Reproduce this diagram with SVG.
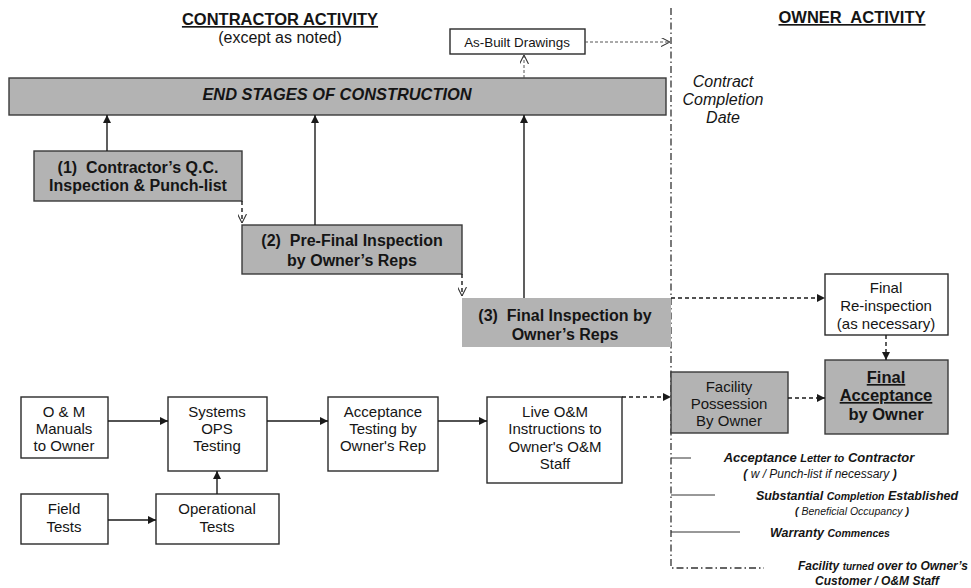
<svg xmlns="http://www.w3.org/2000/svg" width="971" height="588" viewBox="0 0 971 588">
  <style>
    text { font-family: "Liberation Sans", Arial, sans-serif; fill: #151515; }
    .title { font-size: 16.5px; font-weight: bold; text-decoration: underline; }
    .sub { font-size: 16px; }
    .box { fill: #ffffff; stroke: #2a2a2a; stroke-width: 1.4; }
    .gbox { fill: #b3b3b3; stroke: #3a3a3a; stroke-width: 1.4; }
    .gflat { fill: #b3b3b3; stroke: none; }
    .lbl { font-size: 15px; text-anchor: middle; }
    .blbl { font-size: 16px; font-weight: bold; text-anchor: middle; }
    .solid { stroke: #1a1a1a; stroke-width: 1.4; fill: none; }
    .dash { stroke: #1a1a1a; stroke-width: 1.4; fill: none; stroke-dasharray: 4 3; }
    .dashlight { stroke: #555; stroke-width: 1; fill: none; stroke-dasharray: 3 2; }
    .tick { stroke: #333; stroke-width: 1; fill: none; }
    .divider { stroke: #333; stroke-width: 1.3; fill: none; stroke-dasharray: 7 3 1.5 3; }
    .note { font-size: 12.5px; font-weight: bold; font-style: italic; text-anchor: middle; }
    .small { font-size: 10.5px; }
    .noteit { font-size: 12px; font-style: italic; text-anchor: middle; }
  </style>
  <defs>
    <marker id="arrow" viewBox="0 0 10 10" refX="10" refY="5" markerWidth="8" markerHeight="8" markerUnits="userSpaceOnUse" orient="auto">
      <path d="M0,0 L10,5 L0,10 Z" fill="#1a1a1a"/>
    </marker>
    <marker id="open" viewBox="0 0 10 10" refX="10" refY="5" markerWidth="9" markerHeight="9" markerUnits="userSpaceOnUse" orient="auto">
      <path d="M0,0 L10,5 L0,10" fill="none" stroke="#333" stroke-width="1.2"/>
    </marker>
  </defs>

  <!-- headings -->
  <text class="title" x="280" y="25" text-anchor="middle">CONTRACTOR ACTIVITY</text>
  <text class="sub" x="280" y="43" text-anchor="middle">(except as noted)</text>
  <text class="title" x="852" y="23" text-anchor="middle" xml:space="preserve">OWNER  ACTIVITY</text>

  <!-- contract completion divider -->
  <path class="divider" d="M671,8 V568 H764"/>
  <g font-style="italic" font-size="16" text-anchor="middle">
    <text x="723" y="87">Contract</text>
    <text x="723" y="105">Completion</text>
    <text x="723" y="123">Date</text>
  </g>

  <g id="end-stages">
    <rect class="gbox" x="9" y="78" width="657" height="37"/>
    <text x="337" y="100" font-size="16.4" font-weight="bold" font-style="italic" text-anchor="middle">END STAGES OF CONSTRUCTION</text>
  </g>

  <g id="as-built">
    <rect class="box" x="450" y="29" width="135" height="25" stroke-width="1.1"/>
    <text x="517" y="47" font-size="13.4" text-anchor="middle">As-Built Drawings</text>
  </g>

  <g id="qc-inspection">
    <rect class="gbox" x="34" y="151" width="208" height="50"/>
    <text class="blbl" x="138" y="173" xml:space="preserve">(1)  Contractor’s Q.C.</text>
    <text class="blbl" x="138" y="191">Inspection &amp; Punch-list</text>
  </g>

  <g id="pre-final">
    <rect class="gbox" x="242" y="225" width="220" height="49"/>
    <text class="blbl" x="352" y="246" xml:space="preserve">(2)  Pre-Final Inspection</text>
    <text class="blbl" x="352" y="266">by Owner’s Reps</text>
  </g>

  <g id="final-inspection">
    <rect class="gflat" x="462" y="298" width="209" height="49"/>
    <text class="blbl" x="565" y="321" xml:space="preserve">(3)  Final Inspection by</text>
    <text class="blbl" x="565" y="340">Owner’s Reps</text>
  </g>

  <g id="re-inspection">
    <rect class="box" x="825" y="274" width="123" height="61"/>
    <text class="lbl" x="886" y="293">Final</text>
    <text class="lbl" x="886" y="311">Re-inspection</text>
    <text class="lbl" x="886" y="329">(as necessary)</text>
  </g>

  <g id="final-acceptance">
    <rect class="gbox" x="825" y="360" width="123" height="74"/>
    <text x="886" y="383" font-size="16.5" font-weight="bold" text-anchor="middle" text-decoration="underline">Final</text>
    <text x="886" y="401" font-size="16.5" font-weight="bold" text-anchor="middle" text-decoration="underline">Acceptance</text>
    <text x="886" y="420" font-size="16.5" font-weight="bold" text-anchor="middle">by Owner</text>
  </g>

  <g id="facility-possession">
    <rect class="gbox" x="671" y="372" width="117" height="61"/>
    <text class="lbl" x="729" y="392">Facility</text>
    <text class="lbl" x="729" y="409">Possession</text>
    <text class="lbl" x="729" y="426">By Owner</text>
  </g>

  <g id="om-manuals">
    <rect class="box" x="21" y="397" width="87" height="61"/>
    <text class="lbl" x="64" y="417">O &amp; M</text>
    <text class="lbl" x="64" y="434">Manuals</text>
    <text class="lbl" x="64" y="451">to Owner</text>
  </g>

  <g id="systems-ops">
    <rect class="box" x="168" y="397" width="99" height="74"/>
    <text class="lbl" x="217" y="417">Systems</text>
    <text class="lbl" x="217" y="434">OPS</text>
    <text class="lbl" x="217" y="451">Testing</text>
  </g>

  <g id="acceptance-testing">
    <rect class="box" x="328" y="397" width="110" height="74"/>
    <text class="lbl" x="383" y="417">Acceptance</text>
    <text class="lbl" x="383" y="434">Testing by</text>
    <text class="lbl" x="383" y="451">Owner's Rep</text>
  </g>

  <g id="live-om">
    <rect class="box" x="487" y="397" width="135" height="86"/>
    <text class="lbl" x="555" y="417">Live O&amp;M</text>
    <text class="lbl" x="555" y="434">Instructions to</text>
    <text class="lbl" x="555" y="452">Owner's O&amp;M</text>
    <text class="lbl" x="555" y="469">Staff</text>
  </g>

  <g id="field-tests">
    <rect class="box" x="21" y="494" width="87" height="50"/>
    <text class="lbl" x="64" y="514">Field</text>
    <text class="lbl" x="64" y="532">Tests</text>
  </g>

  <g id="operational-tests">
    <rect class="box" x="156" y="494" width="123" height="50"/>
    <text class="lbl" x="217" y="514">Operational</text>
    <text class="lbl" x="217" y="532">Tests</text>
  </g>

  <g id="connectors">
    <!-- into end stages -->
    <path class="solid" d="M107,151 V115" marker-end="url(#arrow)"/>
    <path class="solid" d="M315,225 V115" marker-end="url(#arrow)"/>
    <path class="solid" d="M524,298 V115" marker-end="url(#arrow)"/>
    <!-- as-built drawings -->
    <path class="dashlight" d="M524,78 V55" marker-end="url(#open)"/>
    <path class="dashlight" d="M585,42 H670" marker-end="url(#open)"/>
    <!-- inspection sequence -->
    <path class="dash" d="M242,201 V223" marker-end="url(#open)" stroke-width="1.1"/>
    <path class="dash" d="M462,274 V296" marker-end="url(#open)" stroke-width="1.1"/>
    <path class="dash" d="M671,298 H825" marker-end="url(#arrow)"/>
    <path class="dash" d="M886,335 V360" marker-end="url(#arrow)"/>
    <path class="dash" d="M788,398 H825" marker-end="url(#arrow)"/>
    <path class="dash" d="M622,397 H671" marker-end="url(#arrow)"/>
    <!-- testing chain -->
    <path class="solid" d="M108,421 H168" marker-end="url(#arrow)"/>
    <path class="solid" d="M267,421 H328" marker-end="url(#arrow)"/>
    <path class="solid" d="M438,421 H487" marker-end="url(#arrow)"/>
    <path class="solid" d="M108,520 H156" marker-end="url(#arrow)"/>
    <path class="solid" d="M217,494 V471" marker-end="url(#arrow)"/>
    <!-- milestone ticks -->
    <path class="tick" d="M671,458 H691"/>
    <path class="tick" d="M671,495 H715"/>
    <path class="tick" d="M671,532 H740"/>
  </g>

  <g id="milestones">
    <text class="note" x="819" y="462" style="font-size:13px">Acceptance <tspan style="font-size:11px">Letter to</tspan> Contractor</text>
    <text class="noteit" x="820" y="478"><tspan font-weight="bold">(</tspan> w / Punch-list if necessary <tspan font-weight="bold">)</tspan></text>
    <text class="note" x="857" y="500">Substantial <tspan class="small">Completion</tspan> Established</text>
    <text class="noteit" x="852" y="515" style="font-size:10.5px"><tspan font-weight="bold">(</tspan> Beneficial Occupancy <tspan font-weight="bold">)</tspan></text>
    <text class="note" x="830" y="537">Warranty <tspan class="small">Commences</tspan></text>
    <text class="note" x="968" y="570" style="text-anchor:end;font-size:12px">Facility <tspan style="font-size:10px">turned</tspan> over to Owner’s</text>
    <text class="note" x="877" y="584.5" style="font-size:12px">Customer / O&amp;M Staff</text>
  </g>
</svg>
